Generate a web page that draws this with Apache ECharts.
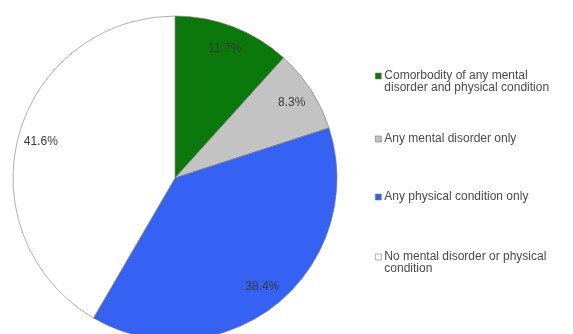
<!DOCTYPE html>
<html lang="en">
<head>
    <meta charset="UTF-8">
    <title>Comorbidity pie</title>
    <style type="text/css">
        body { margin: 0; background: #fff; }
        #main { width: 573px; height: 334px; }
    </style>
</head>
<body>
    <div id="main"></div>
    <script src="https://cdn.jsdelivr.net/npm/echarts@6/dist/echarts.min.js"></script>
    <script type="text/javascript">
        // 各組別與百分比
        var categories = [
            'Comorbodity of any mental\ndisorder and physical condition',
            'Any mental disorder only',
            'Any physical condition only',
            'No mental disorder or physical\ncondition'
        ];
        var shares = [11.7, 8.3, 38.4, 41.6];
        var colors = ['#0a780a', '#c3c3c3', '#3562f2', '#ffffff'];
        var legendTops = [58, 133, 191, 239];

        var myChart = echarts.init(document.getElementById('main'));

        var pieData = [];
        for (let i = 0; i < categories.length; i++) {
            pieData.push({ value: shares[i], name: categories[i], itemStyle: { color: colors[i] } });
        }
        var labelData = [];
        for (let i = 0; i < categories.length; i++) {
            labelData.push({ value: shares[i], name: categories[i] });
        }

        // 每個圖例各自放一個位置，兩行的圖例前面補一空行，讓方塊對齊第一行
        var legends = [];
        for (let i = 0; i < categories.length; i++) {
            legends.push({
                data: [categories[i]],
                left: 375,
                top: legendTops[i],
                padding: 0,
                icon: 'rect',
                itemWidth: 6,
                itemHeight: 6,
                itemGap: 2,
                selectedMode: false,
                itemStyle: { borderColor: '#777', borderWidth: 0.6 },
                formatter: function (name) {
                    return name.indexOf('\n') >= 0 ? ' \n' + name : name;
                },
                textStyle: {
                    fontFamily: 'Liberation Sans, Arial',
                    fontSize: 12,
                    color: '#4a4a4a',
                    lineHeight: 12,
                    padding: [0, 0, 0, -2]
                }
            });
        }

        var option = {
            animation: false,
            color: colors,
            legend: legends,
            series: [
                {
                    type: 'pie',
                    center: [175, 178],
                    radius: [0, 162],
                    startAngle: 90,
                    clockwise: true,
                    label: { show: false },
                    labelLine: { show: false },
                    itemStyle: { borderColor: '#7a7a7a', borderWidth: 0.6 },
                    emphasis: { disabled: true },
                    data: pieData
                },
                {
                    // 只用來放百分比標籤
                    type: 'pie',
                    center: [175, 178],
                    radius: [110, 162],
                    startAngle: 90,
                    silent: true,
                    itemStyle: { color: 'rgba(0,0,0,0)' },
                    label: {
                        show: true,
                        position: 'inside',
                        formatter: '{c}%',
                        fontFamily: 'Liberation Sans, Arial',
                        fontSize: 12,
                        color: '#3a3a3a'
                    },
                    labelLine: { show: false },
                    emphasis: { disabled: true },
                    data: labelData
                }
            ]
        };
        myChart.setOption(option);
    </script>
</body>
</html>
